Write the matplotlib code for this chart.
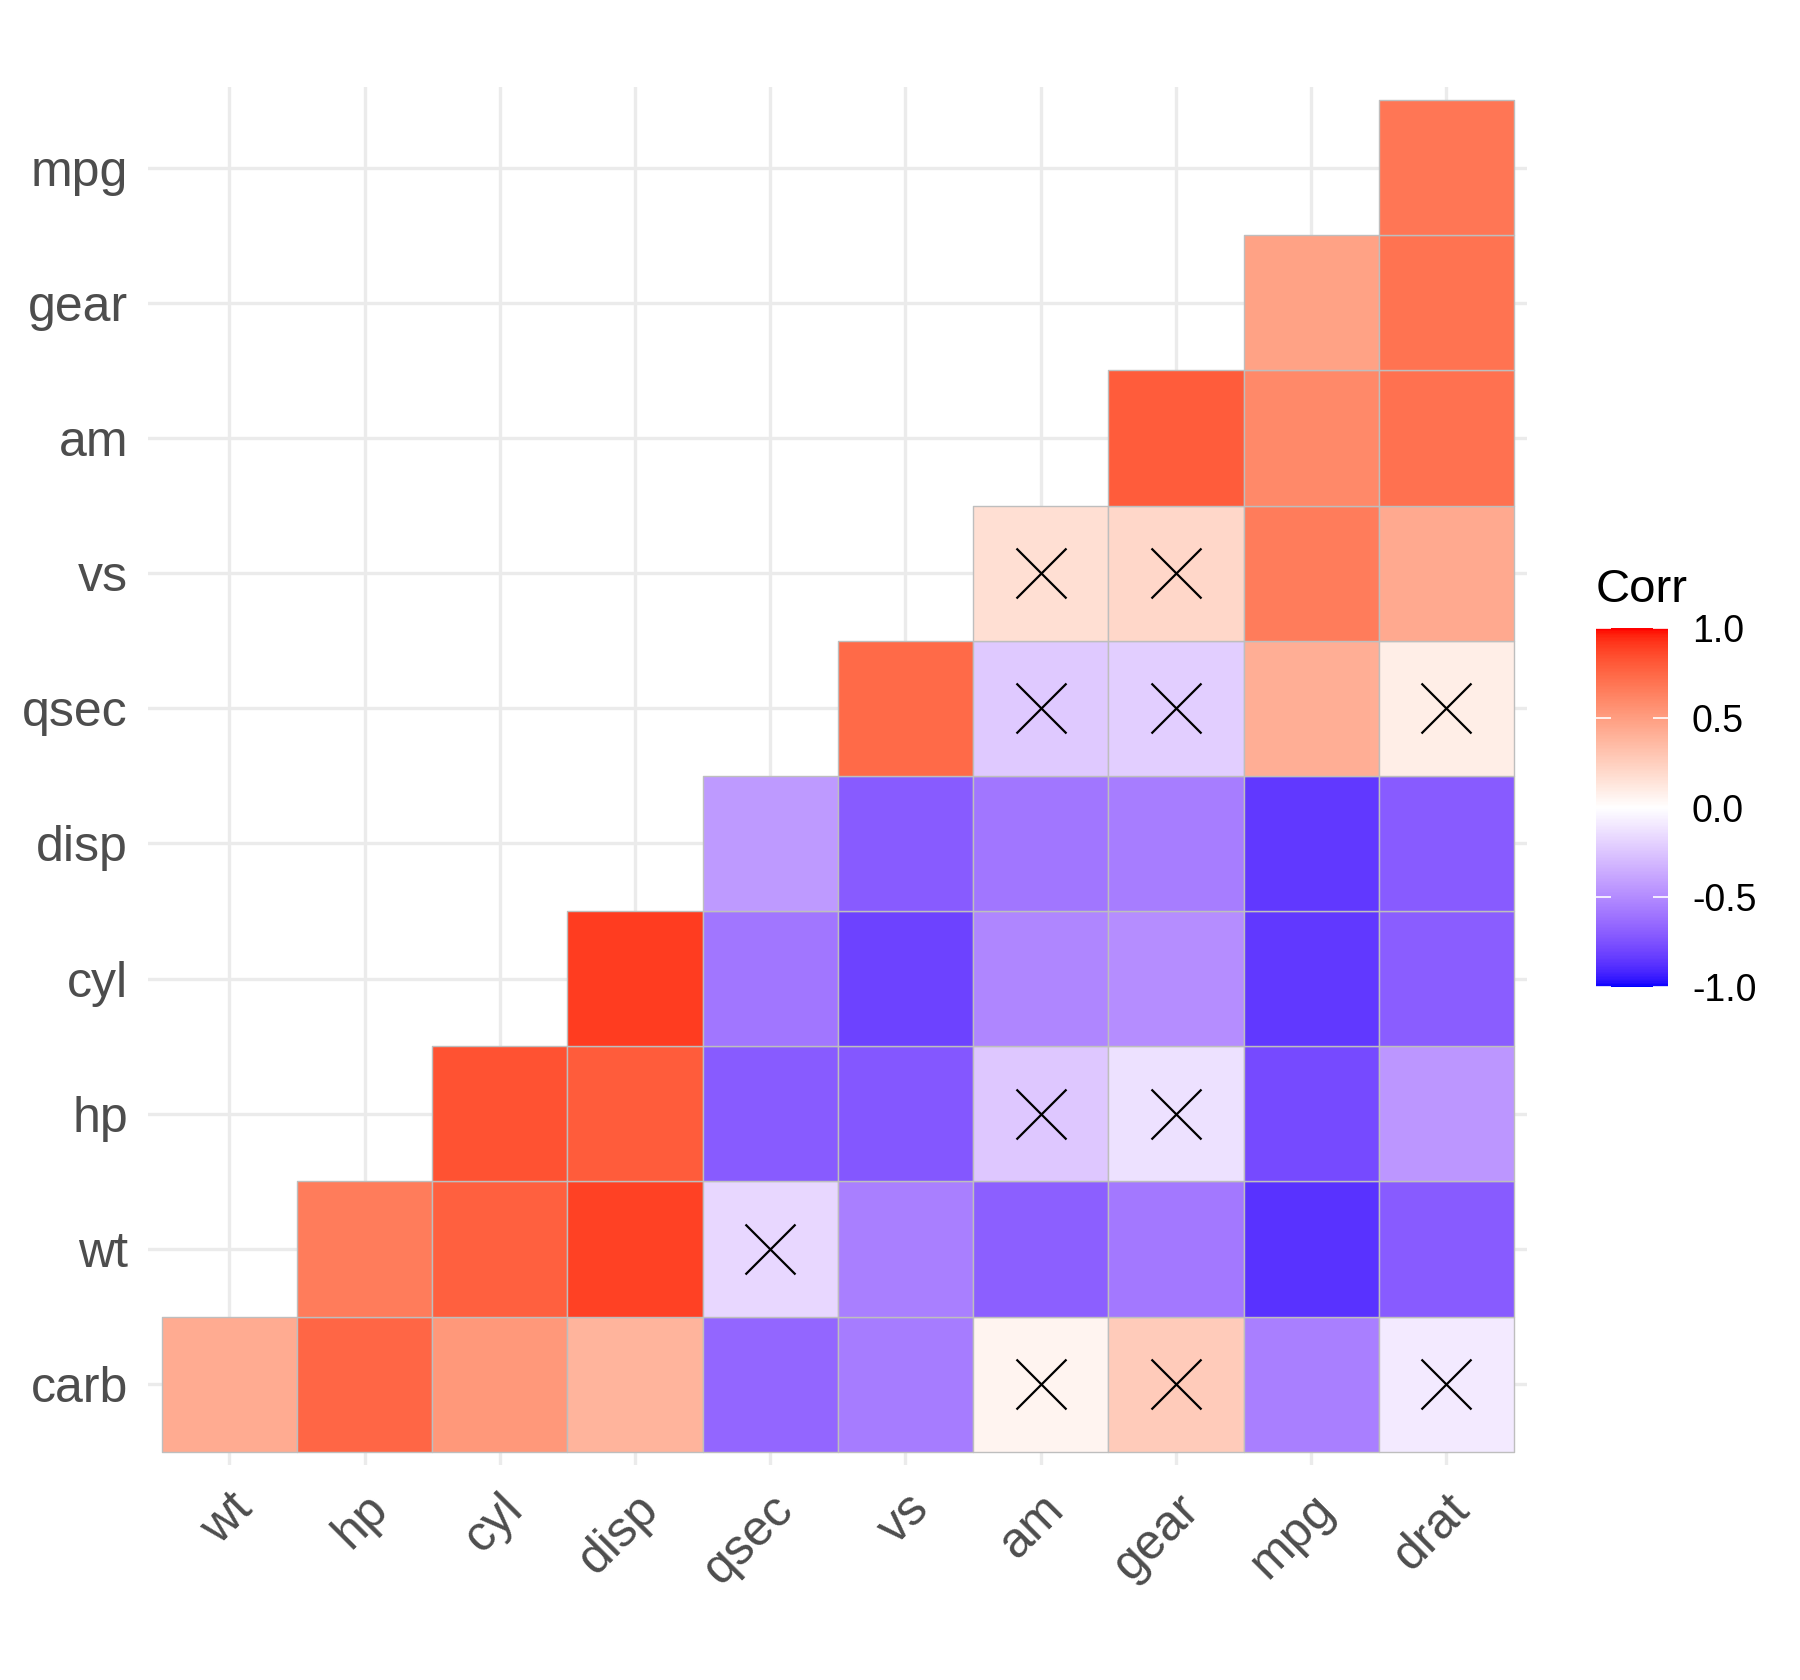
import numpy as np
import matplotlib
matplotlib.use("Agg")
import matplotlib.pyplot as plt
from matplotlib.colors import ListedColormap, Normalize
from matplotlib.collections import PolyCollection

plt.rcParams['font.family'] = ['Liberation Sans', 'DejaVu Sans']
plt.rcParams['axes.unicode_minus'] = False

# variables in the order shown
x_labels = ["wt", "hp", "cyl", "disp", "qsec", "vs", "am", "gear", "mpg", "drat"]
y_labels = ["carb", "wt", "hp", "cyl", "disp", "qsec", "vs", "am", "gear", "mpg"]

# correlations, one row per y variable (columns from its own position to the right)
r_carb = [0.43, 0.75, 0.53, 0.39, -0.66, -0.57, 0.06, 0.27, -0.55, -0.09]
r_wt = [0.66, 0.78, 0.89, -0.17, -0.55, -0.69, -0.58, -0.87, -0.71]
r_hp = [0.83, 0.79, -0.71, -0.72, -0.24, -0.13, -0.78, -0.45]
r_cyl = [0.90, -0.59, -0.81, -0.52, -0.49, -0.85, -0.70]
r_disp = [-0.43, -0.71, -0.59, -0.56, -0.85, -0.71]
r_qsec = [0.74, -0.23, -0.21, 0.42, 0.09]
r_vs = [0.17, 0.21, 0.66, 0.44]
r_am = [0.79, 0.60, 0.71]
r_gear = [0.48, 0.70]
r_mpg = [0.68]
rows = [r_carb, r_wt, r_hp, r_cyl, r_disp, r_qsec, r_vs, r_am, r_gear, r_mpg]

# non significant cells (crossed)
insig_x = ["am", "gear", "drat", "qsec", "am", "gear", "am", "gear", "drat", "am", "gear"]
insig_y = ["carb", "carb", "carb", "wt", "hp", "hp", "qsec", "qsec", "qsec", "vs", "vs"]

legend_ticks = [-1.0, -0.5, 0.0, 0.5, 1.0]


# blue - white - red gradient interpolated in CIE Lab (like ggplot)
M = np.array([[0.4124564, 0.3575761, 0.1804375],
              [0.2126729, 0.7151522, 0.0721750],
              [0.0193339, 0.1191920, 0.9503041]])
WHITE = np.array([0.95047, 1.0, 1.08883])
d = 6 / 29


def to_lab(rgb):
    c = np.asarray(rgb, float)
    lin = np.where(c <= 0.04045, c / 12.92, ((c + 0.055) / 1.055) ** 2.4)
    xyz = M @ lin / WHITE
    f = np.where(xyz > d ** 3, np.cbrt(xyz), xyz / (3 * d ** 2) + 4 / 29)
    return np.array([116 * f[1] - 16, 500 * (f[0] - f[1]), 200 * (f[1] - f[2])])


def from_lab(lab):
    fy = (lab[0] + 16) / 116
    f = np.array([fy + lab[1] / 500, fy, fy - lab[2] / 200])
    xyz = np.where(f > d, f ** 3, 3 * d ** 2 * (f - 4 / 29)) * WHITE
    lin = np.clip(np.linalg.solve(M, xyz), 0, 1)
    c = np.where(lin <= 0.0031308, 12.92 * lin, 1.055 * lin ** (1 / 2.4) - 0.055)
    return np.clip(c, 0, 1)


lab_lo = to_lab([0, 0, 1])
lab_mid = to_lab([1, 1, 1])
lab_hi = to_lab([1, 0, 0])
cols = []
for v in np.linspace(-1, 1, 256):
    if v < 0:
        lab = lab_mid + (-v) * (lab_lo - lab_mid)
    else:
        lab = lab_mid + v * (lab_hi - lab_mid)
    cols.append(from_lab(lab))
cmap = ListedColormap(cols)
norm = Normalize(-1, 1)

# one square per existing cell
verts, vals = [], []
for i, r in enumerate(rows):
    for k, v in enumerate(r):
        j = i + k
        verts.append([(j - 0.5, i - 0.5), (j + 0.5, i - 0.5),
                      (j + 0.5, i + 0.5), (j - 0.5, i + 0.5)])
        vals.append(v)

fig = plt.figure(figsize=(9, 8.4), dpi=200)
ax = fig.add_axes([0.08233, 0.12786, 0.76628, 0.82065])

tiles = PolyCollection(verts, array=np.array(vals), cmap=cmap, norm=norm,
                       edgecolors='#BEBEBE', linewidths=0.5, zorder=2)
ax.add_collection(tiles)

xs = [x_labels.index(n) for n in insig_x]
ys = [y_labels.index(n) for n in insig_y]
ax.scatter(xs, ys, marker='x', s=18 ** 2, c='black', linewidths=0.8, zorder=3)

ax.set_xlim(-0.6, 9.6)
ax.set_ylim(-0.6, 9.6)
ax.set_xticks(range(len(x_labels)))
ax.set_yticks(range(len(y_labels)))
ax.set_xticklabels(x_labels, rotation=45, ha='right', va='top',
                   rotation_mode='anchor')
ax.set_yticklabels(y_labels, va='center_baseline')
ax.tick_params(length=0, pad=7.3, labelsize=18, labelcolor='#4D4D4D')
ax.grid(True, color='#EBEBEB', linewidth=1.2)
ax.set_axisbelow(True)
for s in ax.spines.values():
    s.set_visible(False)

# legend
cax = fig.add_axes([0.8867, 0.4125, 0.04, 0.2134])
cb = fig.colorbar(tiles, cax=cax, ticks=legend_ticks)
cb.outline.set_visible(False)
cb.ax.set_yticklabels(["%.1f" % t for t in legend_ticks])
cax.tick_params(axis='y', direction='in', length=5.3, width=0.6, color='white',
                left=True, right=True, labelleft=False, labelright=True,
                pad=8.6, labelsize=13.5, labelcolor='black')
fig.text(0.8867, 1 - 601.8 / 1680, "Corr", fontsize=17, ha='left', va='baseline')

fig.savefig("out.png", dpi=200, facecolor='white')
